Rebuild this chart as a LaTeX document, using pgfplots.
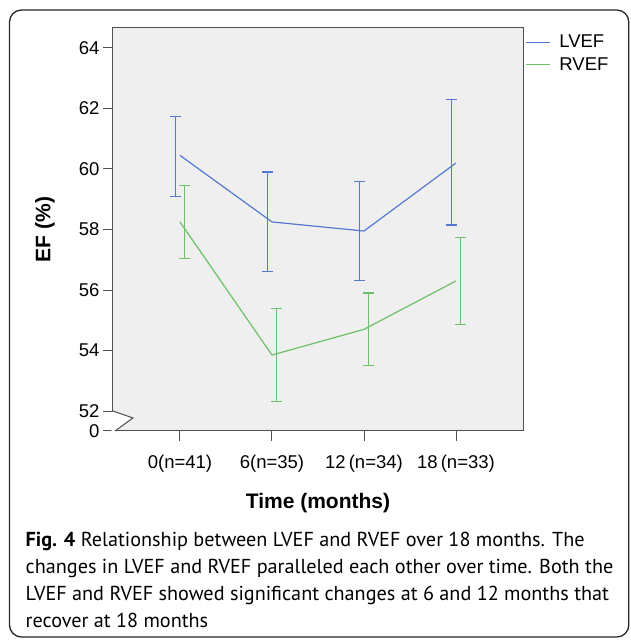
\documentclass[border=0pt]{standalone}
\usepackage{fontspec}
\setmainfont{Liberation Sans}
\newfontfamily\capfont{PT Sans}
\usepackage{pgfplots}
\usepackage{pgfplotstable}
\pgfplotsset{compat=1.18}

\definecolor{lvef}{HTML}{5579D2}
\definecolor{rvef}{HTML}{6CC069}
\definecolor{plotbg}{HTML}{EFEFEF}
\definecolor{axisgray}{HTML}{505050}

% x = time index, xb = dodged position of the error bar
\pgfplotstableread{
x xb mean lo hi
0 -0.049 60.45 59.10 61.75
1 0.951 58.25 56.60 59.90
2 1.951 57.95 56.30 59.60
3 2.951 60.20 58.15 62.30
}\lvefdata
\pgfplotstableread{
x xb mean lo hi
0 0.049 58.25 57.05 59.45
1 1.049 53.85 52.30 55.40
2 2.049 54.70 53.50 55.90
3 3.049 56.30 54.85 57.75
}\rvefdata

\begin{document}
\begin{tikzpicture}
\useasboundingbox (0,0) rectangle (630pt,640pt);
\draw[rounded corners=12pt, line width=1.3pt, black!85] (9.5pt,3pt) rectangle (628.8pt,630pt);

\begin{axis}[
    at={(113pt,209pt)}, anchor=south west,
    scale only axis, width=410pt, height=403pt,
    xmin=-0.728, xmax=3.728,
    ymin=51.339, ymax=64.661,
    clip=false,
    unbounded coords=jump,
    axis background/.style={fill=plotbg},
    axis line style={axisgray, line width=1pt},
    tick style={axisgray, line width=1pt},
    tick align=outside, major tick length=10pt,
    xtick={0,1,2,3},
    xticklabels={0(n=41), 6(n=35), 12\,(n=34), 18\,(n=33)},
    ytick={51.339,52,54,56,58,60,62,64},
    yticklabels={0,52,54,56,58,60,62,64},
    xtick pos=bottom, ytick pos=left,
    ticklabel style={font=\fontsize{18.5}{20}\selectfont},
    xticklabel style={yshift=-11pt},
    xlabel={\textbf{Time (months)}},
    ylabel={\textbf{EF (\%)}},
    label style={font=\fontsize{21}{24}\selectfont},
    xlabel style={at={(axis description cs:0.5,-0.178)}, anchor=center},
    ylabel style={at={(axis description cs:-0.166,0.5)}, anchor=center},
    legend style={at={(axis description cs:1,1)}, anchor=north west,
        xshift=2pt, yshift=-5pt, draw=none, fill=none, inner sep=0pt,
        font=\fontsize{18.5}{20}\selectfont, row sep=4pt,
        /tikz/every odd column/.append style={column sep=7pt}},
    legend cell align=left,
    legend image code/.code={\draw[#1] (0pt,0pt) -- (24pt,0pt);},
]
\addplot[lvef, line width=1.2pt] table[x=x, y=mean] {\lvefdata};
\addlegendentry{LVEF}
\addplot[rvef, line width=1.2pt] table[x=x, y=mean] {\rvefdata};
\addlegendentry{RVEF}

% error bars: vertical whiskers and horizontal caps
\addplot[lvef, line width=1.1pt, forget plot] coordinates {
    (-0.049,59.10) (-0.049,61.75) (-0.049,nan)
    (0.951,56.60) (0.951,59.90) (0.951,nan)
    (1.951,56.30) (1.951,59.60) (1.951,nan)
    (2.951,58.15) (2.951,62.30)};
\addplot[rvef, line width=1.1pt, forget plot] coordinates {
    (0.049,57.05) (0.049,59.45) (0.049,nan)
    (1.049,52.30) (1.049,55.40) (1.049,nan)
    (2.049,53.50) (2.049,55.90) (2.049,nan)
    (3.049,54.85) (3.049,57.75)};
\addplot[lvef, only marks, mark=-, mark size=5.5pt, mark options={line width=1.1pt}, forget plot]
    table[x=xb, y=lo] {\lvefdata};
\addplot[lvef, only marks, mark=-, mark size=5.5pt, mark options={line width=1.1pt}, forget plot]
    table[x=xb, y=hi] {\lvefdata};
\addplot[rvef, only marks, mark=-, mark size=5.5pt, mark options={line width=1.1pt}, forget plot]
    table[x=xb, y=lo] {\rvefdata};
\addplot[rvef, only marks, mark=-, mark size=5.5pt, mark options={line width=1.1pt}, forget plot]
    table[x=xb, y=hi] {\rvefdata};

% axis break
\fill[white] (axis cs:-0.745,51.97) -- (axis cs:-0.728,51.97) -- (axis cs:-0.511,51.77)
    -- (axis cs:-0.706,51.339) -- (axis cs:-0.745,51.339) -- cycle;
\draw[axisgray, line width=1pt] (axis cs:-0.728,52) -- (axis cs:-0.511,51.77) -- (axis cs:-0.706,51.339);
\end{axis}

\begin{scope}[every node/.style={anchor=base west, inner sep=0pt, font=\capfont\fontsize{20.2}{24}\selectfont}]
\node at (25.5pt,93.5pt) {\textbf{Fig. 4} Relationship between LVEF and RVEF over 18 months. The};
\node at (25.5pt,66.5pt) {changes in LVEF and RVEF paralleled each other over time. Both the};
\node at (25.5pt,39.5pt) {LVEF and RVEF showed significant changes at 6 and 12 months that};
\node at (25.5pt,12.5pt) {recover at 18 months};
\end{scope}
\end{tikzpicture}
\end{document}
